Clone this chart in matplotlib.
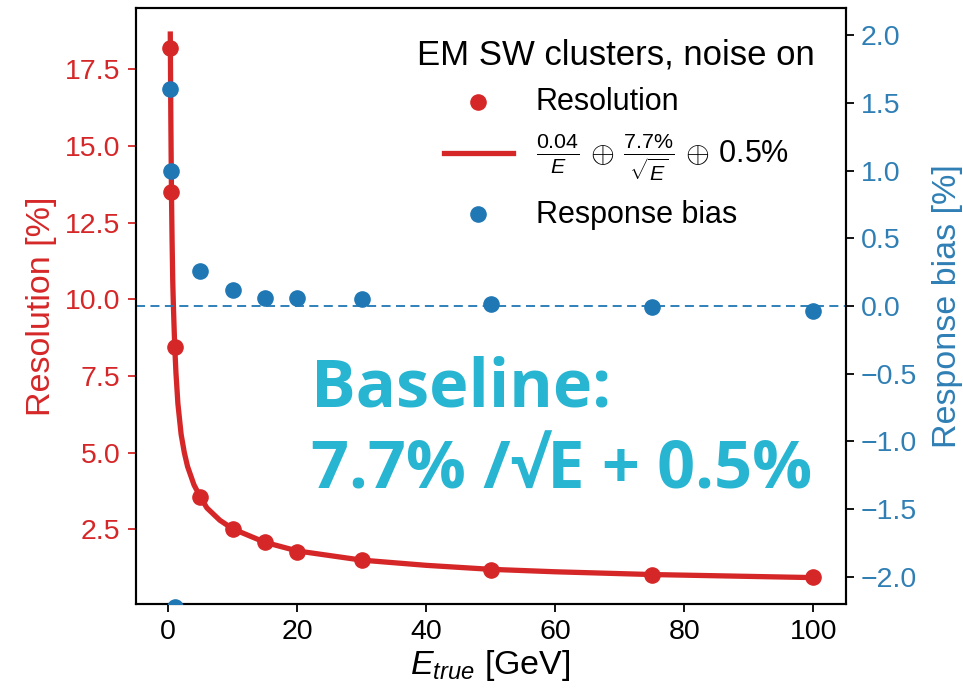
import matplotlib
matplotlib.use("Agg")
import matplotlib.pyplot as plt

plt.rcParams['font.family'] = ['Liberation Sans', 'DejaVu Sans']
plt.rcParams['mathtext.fontset'] = 'custom'
plt.rcParams['mathtext.rm'] = 'Liberation Sans'
plt.rcParams['mathtext.it'] = 'Liberation Sans:italic'
plt.rcParams['mathtext.bf'] = 'Liberation Sans:bold'

# ---- data ----
res_E = [0.3, 0.5, 1, 5, 10, 15, 20, 30, 50, 75, 100]
res_val = [18.2, 13.5, 8.45, 3.55, 2.52, 2.1, 1.78, 1.52, 1.17, 1.03, 0.95]

fit_E = [0.32, 0.4, 0.5, 0.6, 0.7, 0.8, 1, 1.2, 1.5, 2, 2.5, 3, 4, 5, 6, 7.5, 8, 10,
         15, 20, 30, 40, 50, 60, 75, 100]
fit_val = [18.65, 16.0, 13.5, 11.9, 10.6, 9.8, 8.5, 7.6, 6.6, 5.6, 5.0, 4.55, 3.95,
           3.55, 3.2, 2.9, 2.8, 2.52, 2.08, 1.8, 1.5, 1.33, 1.2, 1.12, 1.03, 0.93]

bias_E = [0.3, 0.5, 1, 5, 10, 15, 20, 30, 50, 75, 100]
bias_val = [1.60, 1.00, -2.22, 0.26, 0.12, 0.06, 0.06, 0.05, 0.015, -0.01, -0.04]

x_ticks = [0, 20, 40, 60, 80, 100]
left_ticks = [2.5, 5.0, 7.5, 10.0, 12.5, 15.0, 17.5]
right_ticks = [-2.0, -1.5, -1.0, -0.5, 0.0, 0.5, 1.0, 1.5, 2.0]

RED = '#d62728'
BLUE = '#1f77b4'
BLUE_TXT = '#2f7fb5'
CYAN = '#27b5d2'

fig = plt.figure(figsize=(9.63, 6.94), dpi=100)
ax = fig.add_axes([0.1412, 0.1297, 0.7368, 0.8588])
ax2 = ax.twinx()

h1 = ax.scatter(res_E, res_val, s=120, color=RED, zorder=3, label='Resolution')
h2, = ax.plot(fit_E, fit_val, color=RED, lw=3.8, zorder=2, solid_joinstyle='round',
              label=r'$\frac{0.04}{E}\,\oplus\,\frac{7.7\%}{\sqrt{E}}\,\oplus\,0.5\%$')
h3 = ax2.scatter(bias_E, bias_val, s=120, color=BLUE, zorder=3, label='Response bias')
ax2.axhline(0.0, color=BLUE, lw=1.3, ls='--', dashes=(5, 3))

ax.set_xlim(-5, 105)
ax.set_ylim(0.07, 19.5)
ax2.set_ylim(-2.2, 2.2)

ax.set_xticks(x_ticks)
ax.set_yticks(left_ticks)
ax2.set_yticks(right_ticks)
ax.set_yticklabels([f'{v:.1f}' for v in left_ticks])
ax2.set_yticklabels([f'{v:.1f}'.replace('-', '\u2212') for v in right_ticks])

ax.tick_params(axis='x', labelsize=20.5, length=6, width=1.3, colors='black', pad=5)
ax.tick_params(axis='y', labelsize=20.5, length=6, width=1.3, colors=RED, pad=5)
ax2.tick_params(axis='y', labelsize=20.5, length=6, width=1.3, colors=BLUE_TXT, pad=5)
ax2.tick_params(axis='y', color='black')

for a in (ax, ax2):
    for sp in a.spines.values():
        sp.set_linewidth(1.5)
        sp.set_color('black')

ax.set_xlabel(r'$E_{true}$ [GeV]', fontsize=24.5, labelpad=2)
ax.set_ylabel('Resolution [%]', fontsize=24.5, color=RED, labelpad=6)
ax2.set_ylabel('Response bias [%]', fontsize=24.5, color=BLUE_TXT, labelpad=11)

leg = ax2.legend(handles=[h1, h2, h3], loc='upper right', frameon=False,
                 fontsize=22, title='EM SW clusters, noise on', title_fontsize=25,
                 handlelength=2.26, handletextpad=0.75, labelspacing=0.5,
                 borderaxespad=0.7, borderpad=0.3)

txt_kw = dict(transform=ax2.transAxes, fontsize=48, fontweight='bold', color=CYAN,
              family=['Open Sans', 'DejaVu Sans'], ha='left', va='baseline', zorder=5)
ax2.text(0.247, 0.332, 'Baseline:', **txt_kw)
ax2.text(0.247, 0.193, '7.7% /\u221aE + 0.5%', **txt_kw)

fig.savefig('out.png', dpi=100)
